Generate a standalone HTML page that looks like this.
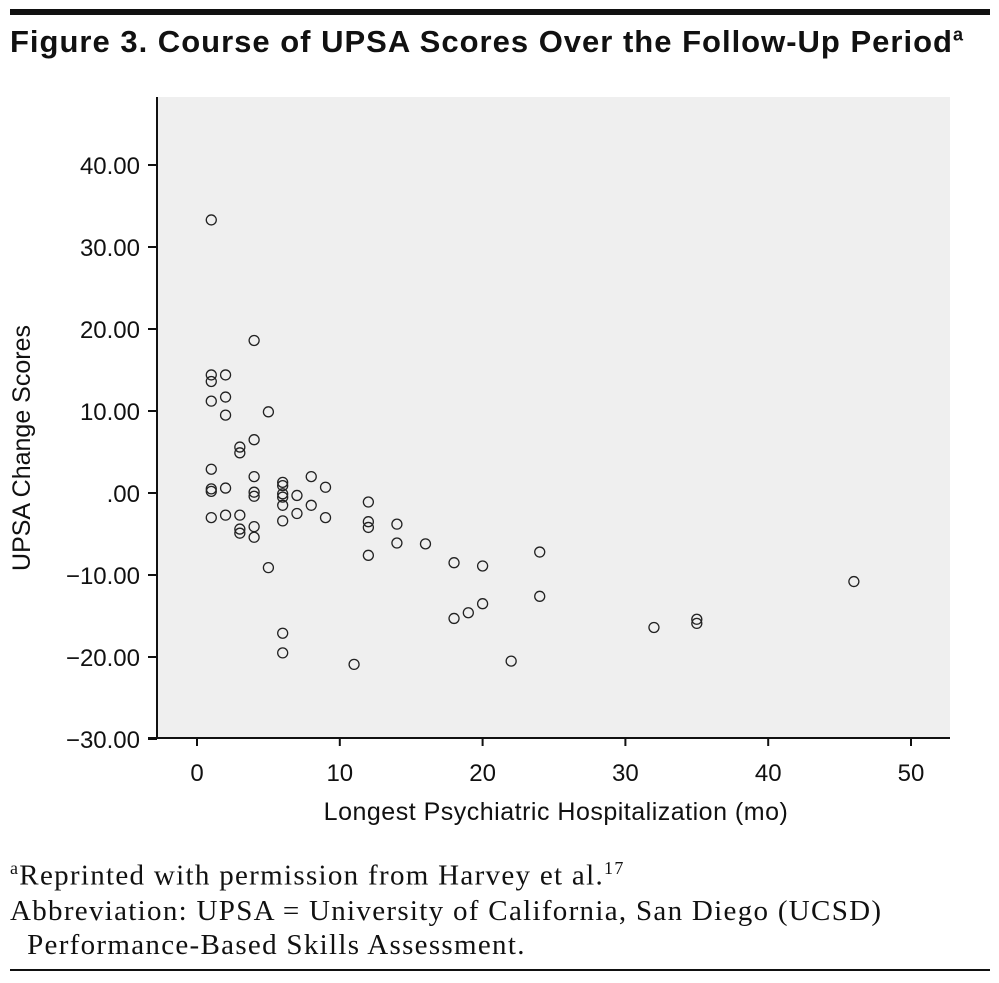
<!DOCTYPE html>
<html><head><meta charset="utf-8"><style>
body{margin:0;width:999px;height:983px;background:#fff;position:relative;overflow:hidden;font-family:"Liberation Sans",sans-serif}
.t{position:absolute}
</style></head><body>
<div class="t" style="left:10px;top:9px;width:980px;height:6px;background:#111"></div>
<div class="t" style="left:10px;top:24px;font-size:31px;letter-spacing:1.0px;font-weight:bold;color:#111;white-space:nowrap">Figure 3. Course of UPSA Scores Over the Follow-Up Period<sup style="font-size:18px">a</sup></div>
<svg class="t" style="left:0;top:0" width="999" height="983">
<rect x="157" y="97" width="793" height="641" fill="#efefef"/>
<g id="axes" stroke="#111" stroke-width="2" fill="none"></g>
<g id="ticks" font-size="24" fill="#111"></g>
<g id="pts" fill="none" stroke="#222" stroke-width="1.3"></g>
<text x="556" y="820" font-size="25" letter-spacing="0.5" text-anchor="middle" fill="#111">Longest Psychiatric Hospitalization (mo)</text>
<text transform="translate(30,448) rotate(-90)" font-size="25" text-anchor="middle" fill="#111">UPSA Change Scores</text>
</svg>
<div class="t" style="left:10px;top:858px;font-family:'Liberation Serif',serif;font-size:29px;letter-spacing:1.3px;color:#111;white-space:nowrap"><sup style="font-size:18px">a</sup>Reprinted with permission from Harvey et al.<sup style="font-size:18px">17</sup></div>
<div class="t" style="left:10px;top:894px;font-family:'Liberation Serif',serif;font-size:29px;letter-spacing:1.3px;color:#111;line-height:34px;white-space:nowrap">Abbreviation: UPSA = University of California, San Diego (UCSD)<br>&nbsp;&nbsp;Performance-Based Skills Assessment.</div>
<div class="t" style="left:10px;top:969px;width:980px;height:2px;background:#111"></div>
<script>
const xVals=[1,1,1,1,1,1,1,1, 2,2,2,2,2, 3,3,3,3,3, 4,4,4,4,4,4,4, 5,5, 6,6,6,6,6,6,6,6, 7,7, 8,8, 9,9, 11, 12,12,12,12, 14,14, 16, 18,18, 19, 20,20, 22, 24,24, 32, 35,35, 46];
const yVals=[33.3,14.4,13.6,11.2,2.9,0.5,0.2,-3.0, 14.4,11.7,9.5,0.6,-2.7, 5.6,4.9,-2.7,-4.4,-4.9, 18.6,6.5,2.0,0.1,-0.4,-4.1,-5.4, 9.9,-9.1, 1.3,0.9,-0.1,-0.5,-1.5,-3.4,-17.1,-19.5, -0.3,-2.5, 2.0,-1.5, 0.7,-3.0, -20.9, -1.1,-3.5,-4.2,-7.6, -3.8,-6.1, -6.2, -8.5,-15.3, -14.6, -8.9,-13.5, -20.5, -7.2,-12.6, -16.4, -15.4,-15.9, -10.8];
const xTicks=[0,10,20,30,40,50];
const yTicks=[40,30,20,10,0,-10,-20,-30];
const yTickLabels=["40.00","30.00","20.00","10.00",".00","\u221210.00","\u221220.00","\u221230.00"];
const NS="http://www.w3.org/2000/svg";
const sx=v=>197+v*14.28;
const sy=v=>493-v*8.2;
function mk(tag,attrs,parent){const e=document.createElementNS(NS,tag);for(const k in attrs)e.setAttribute(k,attrs[k]);parent.appendChild(e);return e;}
const axes=document.getElementById('axes'),ticks=document.getElementById('ticks'),pts=document.getElementById('pts');
let a=mk('line',{x1:157,y1:97,x2:157,y2:739},axes);


a=mk('line',{x1:148,y1:738,x2:950,y2:738},axes);


xTicks.forEach(v=>{
 const l=mk('line',{x1:sx(v),y1:738,x2:sx(v),y2:746},axes);
 
 
 const t=mk('text',{x:sx(v),y:781,'text-anchor':'middle'},ticks);t.textContent=v;
 
 
});
yTicks.forEach((v,i)=>{
 const l=mk('line',{x1:148,y1:sy(v),x2:157,y2:sy(v)},axes);
 
 
 const t=mk('text',{x:140,y:sy(v)+9,'text-anchor':'end'},ticks);t.textContent=yTickLabels[i];
 
 
});
xVals.forEach((x,i)=>{
 const c=mk('circle',{cx:sx(x),cy:sy(yVals[i]),r:5},pts);
 
 
});
</script>
</body></html>
